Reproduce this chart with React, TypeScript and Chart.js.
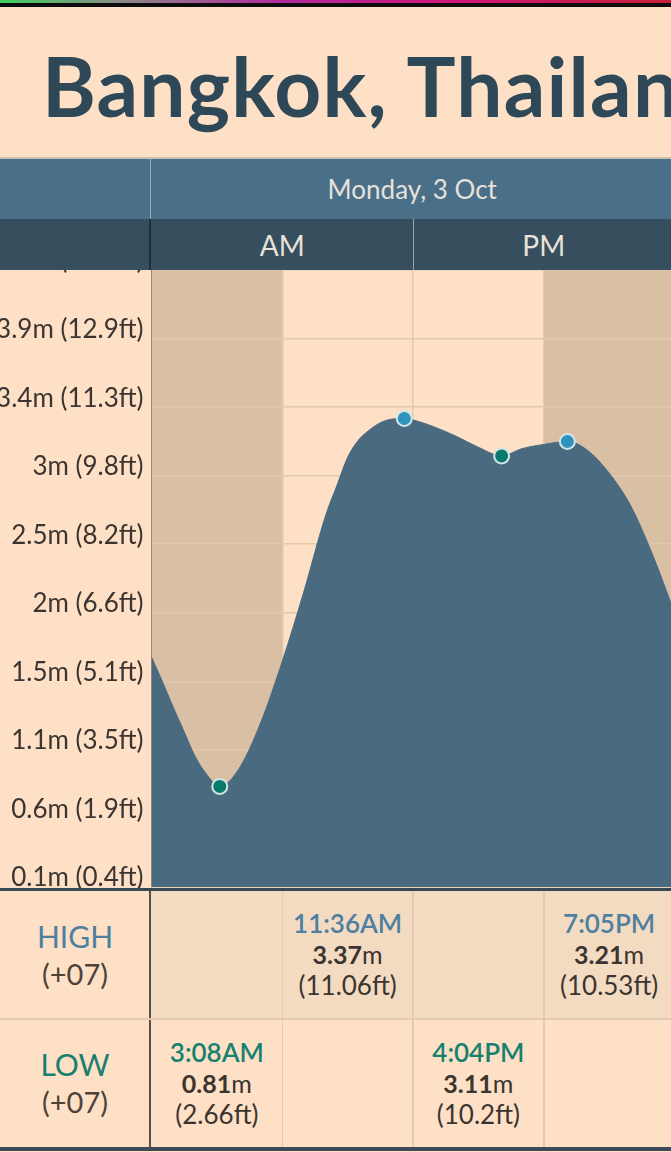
import React, { useEffect, useRef } from "react";
import { Chart, registerables } from "chart.js";

Chart.register(...registerables);

// ---------------- data ----------------
const PLACE = "Bangkok, Thailand";
const DAY_LABEL = "Monday, 3 Oct";
const HALF_DAY_LABELS = ["AM", "PM"];
const TZ_LABEL = "(+07)";

// Tide height through the day: hours after midnight -> metres
const tideHours = [0, 0.5, 1, 1.5, 2, 2.5, 3.133, 4, 5, 6, 7, 8, 8.5, 9, 9.5, 10, 10.5, 11, 11.6, 12, 13, 14, 15, 16.067, 17, 18, 19.083, 20, 21, 22, 23, 24];
const tideMetres = [1.71, 1.54, 1.36, 1.19, 1.02, 0.9, 0.81, 0.93, 1.25, 1.68, 2.17, 2.7, 2.9, 3.1, 3.22, 3.29, 3.34, 3.365, 3.37, 3.36, 3.31, 3.245, 3.17, 3.11, 3.16, 3.19, 3.21, 3.15, 2.99, 2.76, 2.42, 2.02];

// High tides
const highTimes = ["11:36AM", "7:05PM"];
const highHours = [11.6, 19.083];
const highMetres = [3.37, 3.21];
const highFeet = ["11.06", "10.53"];

// Low tides
const lowTimes = ["3:08AM", "4:04PM"];
const lowHours = [3.133, 16.067];
const lowMetres = [0.81, 3.11];
const lowFeet = ["2.66", "10.2"];

// Height axis (metres) and its labels
const axisTicks = [0.1103, 0.5873, 1.0643, 1.5413, 2.0183, 2.4953, 2.9723, 3.4493, 3.9263, 4.4033];
const axisTickLabels = ["0.1m (0.4ft)", "0.6m (1.9ft)", "1.1m (3.5ft)", "1.5m (5.1ft)", "2m (6.6ft)", "2.5m (8.2ft)", "3m (9.8ft)", "3.4m (11.3ft)", "3.9m (12.9ft)", "4.4m (14.4ft)"];

// Hours of darkness
const nightStarts = [0, 18];
const nightEnds = [6, 24];

// ---------------- look ----------------
const FONT = "Lato, 'Noto Sans', sans-serif";
const PAGE_BG = "#fde0c5";
const NIGHT_BG = "#d9bfa4";
const WATER = "#4a6a80";
const GRID = "#e4c8aa";
const HIGH_COLOR = "#2f93bf";
const LOW_COLOR = "#0b7a6e";
const HIGH_TEXT = "#4d7fa0";
const LOW_TEXT = "#17806f";
const INK = "#3b3430";

const PLOT_LEFT = 151.5;
const PLOT_RIGHT = 674.5;
const COL_W = (PLOT_RIGHT - PLOT_LEFT) / 4;
const CANVAS_TOP = 230;
const CANVAS_W = 700;
const CANVAS_H = 690;

const dayNightPlugin = {
  id: "dayNight",
  beforeDraw(chart: any) {
    const { ctx, chartArea: a, scales } = chart;
    const x = scales.x;
    ctx.save();
    ctx.fillStyle = PAGE_BG;
    ctx.fillRect(a.left, a.top, a.right - a.left, a.bottom - a.top);
    ctx.fillStyle = NIGHT_BG;
    nightStarts.forEach((s, i) => {
      const x0 = x.getPixelForValue(s);
      const x1 = x.getPixelForValue(nightEnds[i]);
      ctx.fillRect(x0, a.top, x1 - x0, a.bottom - a.top);
    });
    ctx.restore();
  },
};

function EventCell({ time, metres, feet, color, left }: any) {
  return (
    <div
      style={{
        position: "absolute",
        left,
        top: 0,
        width: COL_W,
        height: "100%",
        display: "flex",
        flexDirection: "column",
        alignItems: "center",
        justifyContent: "center",
        lineHeight: "31px",
        whiteSpace: "nowrap",
      }}
    >
      <div style={{ color, fontWeight: 600, fontSize: 26 }}>{time}</div>
      <div style={{ color: INK, fontSize: 25 }}>
        <span style={{ fontWeight: 700 }}>{String(metres)}</span>m
      </div>
      <div style={{ color: INK, fontSize: 26 }}>({feet}ft)</div>
    </div>
  );
}

function TideRow({ top, height, bg, label, labelColor, times, hours, metres, feet, timeColor }: any) {
  const cols = [1, 2, 3];
  return (
    <div style={{ position: "absolute", left: 0, top, width: 700, height }}>
      <div
        style={{
          position: "absolute",
          left: 0,
          top: 0,
          width: 150,
          height: "100%",
          background: PAGE_BG,
          display: "flex",
          flexDirection: "column",
          alignItems: "center",
          justifyContent: "center",
          lineHeight: "37px",
        }}
      >
        <div style={{ color: labelColor, fontSize: 30 }}>{label}</div>
        <div style={{ color: "#4d4239", fontSize: 29 }}>{TZ_LABEL}</div>
      </div>
      <div style={{ position: "absolute", left: 151, top: 0, right: 0, height: "100%", background: bg }} />
      {cols.map((c) => (
        <div
          key={c}
          style={{ position: "absolute", left: PLOT_LEFT + c * COL_W - 0.75, top: 0, width: 1.5, height: "100%", background: "#e3cab0" }}
        />
      ))}
      <div style={{ position: "absolute", left: 148.5, top: 0, width: 2.5, height: "100%", background: "#55504a" }} />
      {times.map((t: string, i: number) => {
        const col = Math.floor(hours[i] / 6);
        return <EventCell key={t} time={t} metres={metres[i]} feet={feet[i]} color={timeColor} left={PLOT_LEFT + col * COL_W} />;
      })}
    </div>
  );
}

export default function App() {
  const canvasRef = useRef<HTMLCanvasElement>(null);

  useEffect(() => {
    document.body.style.margin = "0";
    const canvas = canvasRef.current;
    if (!canvas) return;

    const extremes = [
      ...lowHours.map((h, i) => ({ x: h, y: lowMetres[i] })),
      ...highHours.map((h, i) => ({ x: h, y: highMetres[i] })),
    ];
    const extremeColors = [...lowHours.map(() => LOW_COLOR), ...highHours.map(() => HIGH_COLOR)];

    const chart = new Chart(canvas, {
      type: "line",
      data: {
        datasets: [
          {
            type: "scatter",
            data: extremes,
            pointRadius: 7.5,
            pointBorderWidth: 2,
            pointBackgroundColor: extremeColors,
            pointBorderColor: "#d3e6e4",
            order: 0,
          } as any,
          {
            data: tideHours.map((h, i) => ({ x: h, y: tideMetres[i] })),
            fill: "start",
            backgroundColor: WATER,
            borderColor: WATER,
            borderWidth: 1,
            pointRadius: 0,
            cubicInterpolationMode: "monotone",
            order: 1,
          },
        ],
      },
      options: {
        animation: false,
        responsive: false,
        maintainAspectRatio: false,
        layout: { padding: { top: 40, bottom: 33, left: 0, right: CANVAS_W - PLOT_RIGHT } },
        plugins: { legend: { display: false }, tooltip: { enabled: false } },
        scales: {
          x: {
            type: "linear",
            min: 0,
            max: 24,
            ticks: { display: false, stepSize: 6 },
            grid: { color: GRID, lineWidth: 1.5, drawTicks: false },
            border: { display: false },
            afterFit: (s: any) => {
              s.height = 0;
            },
          },
          y: {
            type: "linear",
            min: axisTicks[0],
            max: axisTicks[axisTicks.length - 1],
            afterBuildTicks: (s: any) => {
              s.ticks = axisTicks.map((value) => ({ value }));
            },
            ticks: {
              callback: (_v: any, i: number) => axisTickLabels[i],
              color: INK,
              font: { family: FONT, size: 26 },
              padding: 8,
              labelOffset: -9,
              autoSkip: false,
            },
            grid: { color: GRID, lineWidth: 1.5, drawTicks: false },
            border: { color: "#9a8878", width: 1 },
            afterFit: (s: any) => {
              s.width = PLOT_LEFT;
            },
          },
        },
      },
      plugins: [dayNightPlugin],
    } as any);

    return () => chart.destroy();
  }, []);

  return (
    <div
      style={{
        position: "fixed",
        left: 0,
        top: 0,
        width: 671,
        height: 1152,
        overflow: "hidden",
        background: PAGE_BG,
        fontFamily: FONT,
      }}
    >
      <div
        style={{
          position: "absolute",
          left: 0,
          top: 0,
          width: "100%",
          height: 3,
          background: "linear-gradient(90deg, #3fcf5c 0%, #8a8a88 18%, #b02a9e 42%, #d0157a 68%, #c82038 100%)",
        }}
      />
      <div style={{ position: "absolute", left: 0, top: 3, width: "100%", height: 4, background: "#0d0b0b" }} />

      <div
        style={{
          position: "absolute",
          left: 42,
          top: 44,
          fontSize: 82,
          fontWeight: 700,
          lineHeight: 1,
          letterSpacing: 1.2,
          color: "#2f4858",
          whiteSpace: "nowrap",
        }}
      >
        {PLACE}
      </div>
      <div style={{ position: "absolute", left: 0, top: 157, width: "100%", height: 2, background: "#cbbfb2" }} />

      <canvas
        ref={canvasRef}
        width={CANVAS_W}
        height={CANVAS_H}
        style={{ position: "absolute", left: 0, top: CANVAS_TOP, width: CANVAS_W, height: CANVAS_H, zIndex: 1 }}
      />

      {/* header bars */}
      <div style={{ position: "absolute", left: 0, top: 159, width: 700, height: 111, zIndex: 2 }}>
        <div style={{ position: "absolute", left: 0, top: 0, width: "100%", height: 60, background: "#4a6f88" }} />
        <div style={{ position: "absolute", left: 0, top: 60, width: "100%", height: 51, background: "#364e5e" }} />
        <div style={{ position: "absolute", left: 149.5, top: 0, width: 1, height: 60, background: "#9aadb9" }} />
        <div style={{ position: "absolute", left: 149, top: 60, width: 2, height: 51, background: "#1f2d36" }} />
        <div style={{ position: "absolute", left: 412.5, top: 60, width: 1, height: 51, background: "#97a7b0" }} />
        <div
          style={{
            position: "absolute",
            left: 150,
            top: 0,
            width: PLOT_RIGHT - 150,
            height: 60,
            display: "flex",
            alignItems: "center",
            justifyContent: "center",
            color: "#e6e1d9",
            fontSize: 26,
            whiteSpace: "nowrap",
          }}
        >
          {DAY_LABEL}
        </div>
        {HALF_DAY_LABELS.map((t, i) => (
          <div
            key={t}
            style={{
              position: "absolute",
              left: PLOT_LEFT + i * 2 * COL_W,
              top: 60,
              width: 2 * COL_W,
              height: 51,
              display: "flex",
              alignItems: "center",
              justifyContent: "center",
              color: "#e8e3da",
              fontSize: 28,
            }}
          >
            {t}
          </div>
        ))}
      </div>

      {/* tide table */}
      <div style={{ position: "absolute", left: 0, top: 888, width: 700, height: 264, zIndex: 2, background: PAGE_BG }}>
        <div style={{ position: "absolute", left: 0, top: 0, width: "100%", height: 3, background: "#374955" }} />
        <TideRow
          top={3}
          height={127}
          bg="#f3dbc2"
          label="HIGH"
          labelColor={HIGH_TEXT}
          times={highTimes}
          hours={highHours}
          metres={highMetres}
          feet={highFeet}
          timeColor={HIGH_TEXT}
        />
        <div style={{ position: "absolute", left: 0, top: 130, width: "100%", height: 1.5, background: "#e3cab0" }} />
        <TideRow
          top={131.5}
          height={127.5}
          bg={PAGE_BG}
          label="LOW"
          labelColor={LOW_TEXT}
          times={lowTimes}
          hours={lowHours}
          metres={lowMetres}
          feet={lowFeet}
          timeColor={LOW_TEXT}
        />
        <div style={{ position: "absolute", left: 0, top: 259, width: "100%", height: 3.5, background: "#3d4a55" }} />
      </div>
    </div>
  );
}
